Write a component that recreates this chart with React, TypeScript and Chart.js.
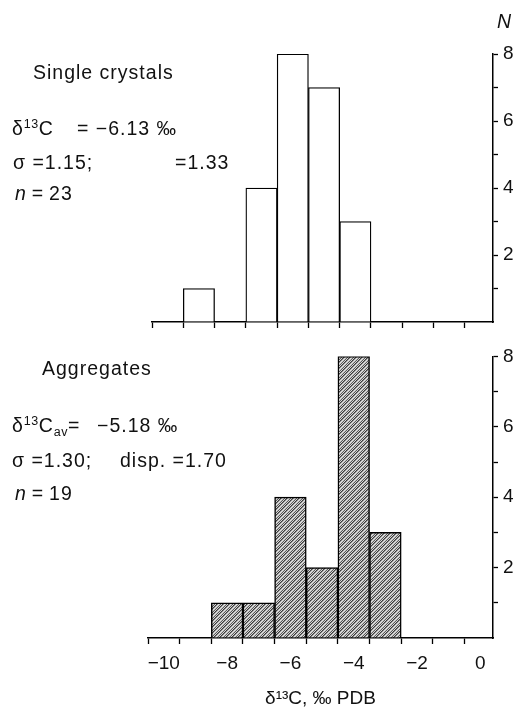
import React, { useEffect, useRef } from 'react';
import { Chart, registerables } from 'chart.js';

Chart.register(...registerables);

// histogram bins (per mil, bin centres) and counts
const binCenters = [-10, -9, -8, -7, -6, -5, -4, -3, -2, -1, 0];
const singleCrystalCounts = [0, 1, 0, 4, 8, 7, 3, 0, 0, 0, 0];
const aggregateCounts = [0, 0, 1, 1, 4, 2, 8, 3, 0, 0, 0];

// tick marks sit on the bin edges, labels on even bin centres
const binEdges = [-10.5, -9.5, -8.5, -7.5, -6.5, -5.5, -4.5, -3.5, -2.5, -1.5, -0.5];
const xLabelValues = [-10, -8, -6, -4, -2, 0];
const yLabelValues = [2, 4, 6, 8];

const FONT = '"Liberation Sans", Arial, Helvetica, sans-serif';
const INK = '#111';

Chart.defaults.font.family = FONT;
Chart.defaults.color = INK;

const fmt = (v: number) => (v < 0 ? '\u2212' + Math.abs(v) : String(v));

// grainy diagonal screen like the printed fill
const STIPPLE_ROWS = [
  '#3a3a3a', '#8c8c8c', '#e2e2e2', '#c4c4c4', '#5a5a5a', '#d8d8d8'
];

function makeStipple(ctx: CanvasRenderingContext2D) {
  const n = STIPPLE_ROWS.length;
  const tile = document.createElement('canvas');
  tile.width = n;
  tile.height = n;
  const t = tile.getContext('2d')!;
  for (let y = 0; y < n; y++) {
    for (let x = 0; x < n; x++) {
      t.fillStyle = STIPPLE_ROWS[(x + y) % n];
      t.fillRect(x, y, 1, 1);
    }
  }
  return ctx.createPattern(tile, 'repeat');
}

type HistProps = {
  counts: number[];
  stippled: boolean;
  borderWidth: number;
  showXLabels: boolean;
  padding: { left: number; top: number; right: number; bottom: number };
  xAxisHeight: number;
};

const Histogram = ({ counts, stippled, borderWidth, showXLabels, padding, xAxisHeight }: HistProps) => {
  const canvasRef = useRef<HTMLCanvasElement>(null);

  useEffect(() => {
    const canvas = canvasRef.current;
    if (!canvas) return;
    const ctx = canvas.getContext('2d')!;
    const fill = stippled ? makeStipple(ctx) : '#ffffff';

    // edges first, then labels: keeps the bar-width ruler at one bin
    const xTicks = showXLabels ? [...binEdges, ...xLabelValues] : binEdges;

    const chart = new Chart(canvas, {
      type: 'bar',
      data: {
        datasets: [
          {
            data: binCenters
              .map((x, i) => ({ x, y: counts[i] }))
              .filter((p) => p.y > 0),
            backgroundColor: fill as any,
            borderColor: '#000',
            borderWidth,
            barPercentage: 1,
            categoryPercentage: 1
          }
        ]
      },
      options: {
        animation: false,
        responsive: true,
        maintainAspectRatio: false,
        layout: { padding },
        plugins: {
          legend: { display: false },
          tooltip: { enabled: false }
        },
        scales: {
          x: {
            type: 'linear',
            min: -10.5,
            max: 0.4,
            offset: false,
            afterBuildTicks: (scale: any) => {
              scale.ticks = xTicks.map((value) => ({ value }));
            },
            afterFit: (scale: any) => {
              scale.height = xAxisHeight;
            },
            grid: {
              offset: false,
              drawOnChartArea: false,
              drawTicks: true,
              tickLength: 6,
              tickWidth: 1.3,
              tickColor: (c: any) => (Number.isInteger(c.tick?.value) ? 'rgba(0,0,0,0)' : '#000')
            },
            border: { color: '#000', width: 1.5 },
            ticks: {
              display: showXLabels,
              autoSkip: false,
              maxRotation: 0,
              padding: 8,
              font: { size: 19 },
              color: INK,
              callback: (v: any) => (xLabelValues.includes(v) ? fmt(v) : '')
            },
            title: {
              display: showXLabels,
              text: 'δ¹³C, ‰ PDB',
              font: { size: 19 },
              color: INK,
              padding: { top: 0, bottom: 0 }
            }
          },
          y: {
            position: 'right',
            min: 0,
            max: 8,
            afterFit: (scale: any) => {
              scale.width = 27;
            },
            grid: {
              drawOnChartArea: false,
              tickLength: 5,
              tickWidth: 1.3,
              tickColor: (c: any) => (c.tick?.value === 0 ? 'rgba(0,0,0,0)' : '#000')
            },
            border: { color: '#000', width: 1.5 },
            ticks: {
              stepSize: 1,
              autoSkip: false,
              padding: 5,
              font: { size: 19 },
              color: INK,
              callback: (v: any) => (yLabelValues.includes(v) ? String(v) : '')
            }
          }
        }
      }
    } as any);

    return () => {
      chart.destroy();
    };
  }, []);

  return <canvas ref={canvasRef} />;
};

const textBase: React.CSSProperties = {
  position: 'absolute',
  fontFamily: FONT,
  fontSize: 19.5,
  lineHeight: '19.5px',
  letterSpacing: '1px',
  color: INK,
  whiteSpace: 'pre',
  pointerEvents: 'none'
};

// x = left edge, cy = cap-height centre
const T = ({ x, cy, children, italic }: { x: number; cy: number; children: React.ReactNode; italic?: boolean }) => (
  <span style={{ ...textBase, left: x, top: cy - 9.5, fontStyle: italic ? 'italic' : 'normal' }}>{children}</span>
);

const Sup = ({ children }: { children: React.ReactNode }) => (
  <span style={{ fontSize: 12.5, position: 'relative', top: -7, letterSpacing: '0.5px' }}>{children}</span>
);

const Sub = ({ children }: { children: React.ReactNode }) => (
  <span style={{ fontSize: 12.5, position: 'relative', top: 4, letterSpacing: '0.5px' }}>{children}</span>
);

const I = ({ children }: { children: React.ReactNode }) => <span style={{ fontStyle: 'italic' }}>{children}</span>;

const App = () => {
  return (
    <div style={{ position: 'absolute', left: 0, top: 0, width: 520, height: 710, background: '#fff' }}>
      <div style={{ position: 'absolute', left: 0, top: 0, width: 520, height: 340 }}>
        <Histogram
          counts={singleCrystalCounts}
          stippled={false}
          borderWidth={1.3}
          showXLabels={false}
          padding={{ left: 152, top: 54, right: 0, bottom: 8 }}
          xAxisHeight={10}
        />
      </div>
      <div style={{ position: 'absolute', left: 0, top: 340, width: 520, height: 370 }}>
        <Histogram
          counts={aggregateCounts}
          stippled={true}
          borderWidth={1.5}
          showXLabels={true}
          padding={{ left: 148, top: 12, right: 0, bottom: 0 }}
          xAxisHeight={72}
        />
      </div>

      <T x={497} cy={21} italic>N</T>

      <T x={33} cy={72}>Single crystals</T>
      <T x={12} cy={128}>δ<Sup>13</Sup>C</T>
      <T x={77} cy={128}>= −6.13 ‰</T>
      <T x={13} cy={162}>σ =1.15;</T>
      <T x={175} cy={162}>=1.33</T>
      <T x={15} cy={193}><I>n</I>{'\u2009=\u200923'}</T>

      <T x={42} cy={368}>Aggregates</T>
      <T x={12} cy={425}>δ<Sup>13</Sup>C<Sub>av</Sub>=</T>
      <T x={97} cy={425}>−5.18 ‰</T>
      <T x={12} cy={460}>σ =1.30;</T>
      <T x={120} cy={460}>disp. =1.70</T>
      <T x={15} cy={493}><I>n</I>{'\u2009=\u200919'}</T>
    </div>
  );
};

export default App;
